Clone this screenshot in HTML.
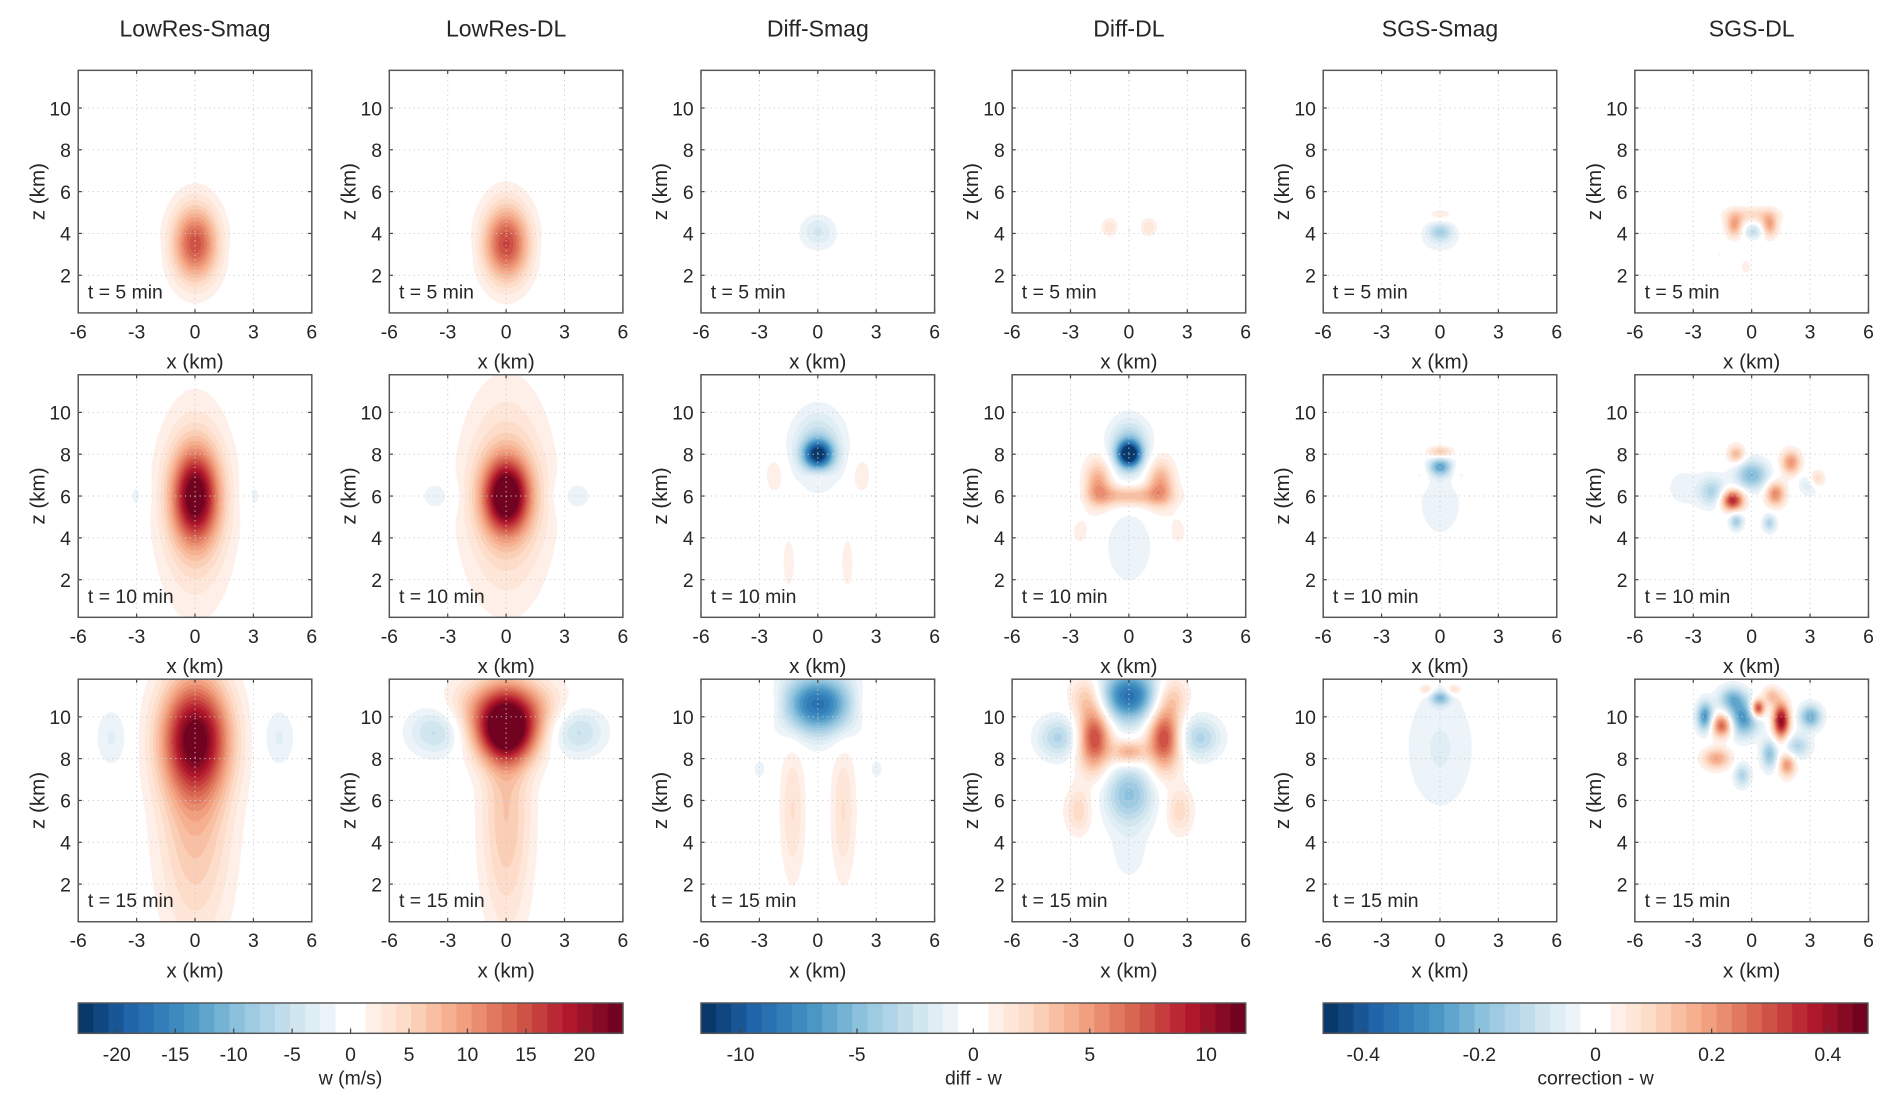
<!DOCTYPE html>
<html><head><meta charset="utf-8"><style>
html,body{margin:0;padding:0;background:#fff;width:1892px;height:1104px;overflow:hidden}
#root{position:absolute;left:0;top:0;width:1560px;height:910.3px;transform:scale(1.21282);transform-origin:0 0;font-family:"Liberation Sans",Arial,sans-serif}
canvas{position:absolute}
svg{position:absolute;left:0;top:0}
text{font-family:"Liberation Sans",Arial,sans-serif;fill:#262626}
</style></head><body>
<div id="root">
<svg id="ov" width="1560" height="911" viewBox="0 0 1560 911"></svg>
</div>
<script>
// ---- data ----
const colTitles=["LowRes-Smag","LowRes-DL","Diff-Smag","Diff-DL","SGS-Smag","SGS-DL"];
const timeLabels=["t = 5 min","t = 10 min","t = 15 min"];
const xTicks=[-6,-3,0,3,6];
const zTicks=[2,4,6,8,10];
const cbTicksW=[-20,-15,-10,-5,0,5,10,15,20];
const cbTicksDiff=[-10,-5,0,5,10];
const cbTicksCorr=[-0.4,-0.2,0,0.2,0.4];
const cbRanges=[23.3,11.7,0.469];
const cbTitles=["w (m/s)","diff - w","correction - w"];
// blobs: [x, z, sx, sz, amplitude(normalized to colorbar max)]
const fields=[
 [ // t=5
  [[0,3.5,0.8,1.2,0.55],[0,3.6,1.0,1.7,0.1],[-2.2,3,0.25,0.5,-0.07],[2.2,3,0.25,0.5,-0.07]],
  [[0,3.5,0.8,1.2,0.58],[0,3.7,1.0,1.8,0.1],[-2.2,3.1,0.25,0.5,-0.07],[2.2,3.1,0.25,0.5,-0.07]],
  [[0,4.2,0.6,0.5,-0.15],[0,3.6,0.8,0.5,-0.05]],
  [[-1,4.3,0.3,0.3,0.16],[1,4.3,0.3,0.3,0.16],[0,4.2,0.3,0.3,-0.06]],
  [[0,4.1,0.45,0.3,-0.3],[0,3.6,0.8,0.45,-0.08],[0,4.9,0.45,0.2,0.1],[0,2.2,0.6,0.3,-0.05]],
  [[-0.9,4.4,0.3,0.4,0.4],[0.9,4.4,0.3,0.4,0.4],[0,4.9,0.9,0.25,0.2],[0.1,4.1,0.35,0.25,-0.25],[-1.7,3,0.12,0.3,-0.06],[-0.3,2.4,0.2,0.25,0.1]]
 ],
 [ // t=10
  [[0,6,0.8,1.5,0.85],[0,5.5,1.3,3.2,0.25],[-3,6,0.4,0.7,-0.08],[3,6,0.4,0.7,-0.08]],
  [[0,6,0.8,1.2,0.95],[0,6,1.5,3.3,0.28],[-3.5,6,0.7,0.6,-0.1],[3.5,6,0.7,0.6,-0.1]],
  [[0,8,0.5,0.45,-0.8],[0,8.3,0.9,1.2,-0.3],[0,6.9,0.5,0.3,0.1],[-2.2,7,0.4,0.7,0.1],[2.2,7,0.4,0.7,0.1],[-1.5,2.8,0.3,1.2,0.08],[1.5,2.8,0.3,1.2,0.08]],
  [[0,8,0.4,0.4,-0.9],[0,8.3,0.7,0.9,-0.4],[-1.6,6.6,0.5,0.8,0.4],[1.6,6.6,0.5,0.8,0.4],[0,6.0,1.4,0.35,0.35],[0,3.6,1.0,1.5,-0.1],[-3,6,0.7,0.5,-0.08],[-2.5,4.3,0.4,0.6,0.08],[2.5,4.3,0.4,0.6,0.08]],
  [[0,7.4,0.4,0.3,-0.5],[0,8.1,0.45,0.2,0.3],[0,5.8,0.9,1.4,-0.1],[-1,7,0.3,0.4,0.1],[1,7,0.3,0.4,0.1]],
  [[-1,5.8,0.4,0.35,0.8],[1.2,6.1,0.35,0.4,0.5],[0,7,0.6,0.5,-0.45],[2,7.6,0.35,0.4,0.45],[-2,6.2,0.5,0.5,-0.3],[-0.8,4.8,0.25,0.3,-0.35],[0.9,4.7,0.25,0.3,-0.3],[-0.8,8,0.3,0.3,0.35],[3,6.6,0.4,0.4,-0.2],[3.3,6.8,0.3,0.3,0.3],[-3.5,6.4,0.8,0.8,-0.08]]
 ],
 [ // t=15
  [[0,9,1.2,1.8,0.8],[0,6,1.3,4.5,0.33],[-4.3,9,0.6,1,-0.12],[4.3,9,0.6,1,-0.12]],
  [[0,9.2,1.1,1.0,0.9],[0,10.5,1.7,1.0,0.5],[0,5.5,0.9,4,0.28],[-3.6,9.3,1,0.8,-0.25],[3.6,9.3,1,0.8,-0.25]],
  [[0,10.6,1.4,1.0,-0.75],[-2.5,10.6,0.8,0.8,0.15],[2.5,10.6,0.8,0.8,0.15],[-1.3,5.5,0.45,2.4,0.17],[1.3,5.5,0.45,2.4,0.17],[-3,7.5,0.3,0.4,-0.08],[3,7.5,0.3,0.4,-0.08]],
  [[0,11,1.1,0.9,-0.75],[-1.8,9,0.6,1.1,0.7],[1.8,9,0.6,1.1,0.7],[0,8.3,0.6,0.4,0.4],[-3.6,9,0.8,0.7,-0.3],[3.6,9,0.8,0.7,-0.3],[0,6.3,0.9,1.0,-0.4],[-2.6,5.5,0.5,0.8,0.2],[2.6,5.5,0.5,0.8,0.2],[-2.2,11,0.6,0.7,0.25],[2.2,11,0.6,0.7,0.25],[0,3.5,0.8,1.2,-0.08]],
  [[0,8.5,1.3,2.2,-0.12],[0,10.9,0.35,0.25,-0.4],[-0.7,11.3,0.3,0.2,0.2],[0.7,11.3,0.3,0.2,0.2]],
  [[0.3,10.4,0.25,0.3,0.8],[1.5,9.8,0.3,0.6,0.9],[-1.5,9.6,0.4,0.4,0.7],[-0.5,9.9,0.6,0.6,-0.6],[-2.4,10,0.3,0.5,-0.6],[3,10,0.4,0.4,-0.5],[-1.8,8,0.5,0.35,0.4],[0.9,8.2,0.3,0.5,-0.4],[1.8,7.7,0.3,0.4,0.45],[-0.5,7.2,0.3,0.4,-0.3],[-1,10.9,0.5,0.4,-0.4],[1,11,0.3,0.3,0.3],[2.3,8.6,0.5,0.4,-0.3]]
 ]
];
// ---- layout ----
const colX=[64.5,321,578,834.5,1091,1348], rowY=[58,309,560], PW=192.6, PH=200;
const XMIN=-6,XMAX=6,ZMIN=0.2,ZMAX=11.8;
const sx=(c,x)=>colX[c]+(x-XMIN)/(XMAX-XMIN)*PW;
const sz=(r,z)=>rowY[r]+PH-(z-ZMIN)/(ZMAX-ZMIN)*PH;
const stops=[[5,48,97],[33,102,172],[67,147,195],[146,197,222],[209,229,240],[255,255,255],[253,219,199],[244,165,130],[214,96,77],[178,24,43],[103,0,31]];
const NL=36;
function cmap(v){
  let k=Math.floor((v+1)/2*NL); k=Math.max(0,Math.min(NL-1,k));
  let t=(k+0.5)/NL; if(Math.abs(t-0.5)<0.5/NL+1e-9) return [255,255,255];
  let p=t*(stops.length-1), i=Math.min(stops.length-2,Math.floor(p)), f=p-i;
  return stops[i].map((a,j)=>Math.round(a+(stops[i+1][j]-a)*f));
}
const root=document.getElementById('root');
const svg=document.getElementById('ov');
const NS='http://www.w3.org/2000/svg';
function mk(tag,attrs,parent){const e=document.createElementNS(NS,tag);for(const k in attrs)e.setAttribute(k,attrs[k]);(parent||svg).appendChild(e);return e;}
function txt(x,y,s,size,anchor,parent){const t=mk('text',{x:x,y:y,'font-size':size,'text-anchor':anchor||'middle'},parent);t.textContent=s;return t;}
for(let r=0;r<3;r++)for(let c=0;c<6;c++){
  const cv=document.createElement('canvas');
  
  
  const S=2; cv.width=Math.round(PW*S); cv.height=PH*S;
  cv.style.left=colX[c]+'px'; cv.style.top=rowY[r]+'px'; cv.style.width=PW+'px'; cv.style.height=PH+'px';
  root.insertBefore(cv,svg);
  const ctx=cv.getContext('2d'); const img=ctx.createImageData(cv.width,cv.height);
  const bl=fields[r][c];
  for(let py=0;py<cv.height;py++){const z=ZMAX-(py+0.5)/cv.height*(ZMAX-ZMIN);
    for(let px=0;px<cv.width;px++){const x=XMIN+(px+0.5)/cv.width*(XMAX-XMIN);
      let v=0; for(const b of bl){const dx=(x-b[0])/b[2],dz=(z-b[1])/b[3];v+=b[4]*Math.exp(-0.5*(dx*dx+dz*dz));}
      const col=cmap(v); const o=(py*cv.width+px)*4; img.data[o]=col[0];img.data[o+1]=col[1];img.data[o+2]=col[2];img.data[o+3]=255;}}
  ctx.putImageData(img,0,0);
  const g=mk('g',{});
  
  
  for(const t of xTicks){const X=sx(c,t);
    if(t>XMIN&&t<XMAX)mk('line',{x1:X,y1:rowY[r],x2:X,y2:rowY[r]+PH,stroke:'#ccc','stroke-width':0.8,'stroke-dasharray':'1 3'},g);
    mk('line',{x1:X,y1:rowY[r]+PH,x2:X,y2:rowY[r]+PH-3,stroke:'#444','stroke-width':1},g);
    mk('line',{x1:X,y1:rowY[r],x2:X,y2:rowY[r]+3,stroke:'#444','stroke-width':1},g);
    txt(X,rowY[r]+PH+21,String(t),16,'middle',g);}
  for(const t of zTicks){const Y=sz(r,t);
    mk('line',{x1:colX[c],y1:Y,x2:colX[c]+PW,y2:Y,stroke:'#ccc','stroke-width':0.8,'stroke-dasharray':'1 3'},g);
    mk('line',{x1:colX[c],y1:Y,x2:colX[c]+3,y2:Y,stroke:'#444','stroke-width':1},g);
    mk('line',{x1:colX[c]+PW,y1:Y,x2:colX[c]+PW-3,y2:Y,stroke:'#444','stroke-width':1},g);
    txt(colX[c]-6,Y+6,String(t),16,'end',g);}
  mk('rect',{x:colX[c],y:rowY[r],width:PW,height:PH,fill:'none',stroke:'#555','stroke-width':1.2},g);
  txt(colX[c]+8,rowY[r]+188,timeLabels[r],16,'start',g);
  txt(colX[c]+PW/2,rowY[r]+PH+46,'x (km)',17,'middle',g);
  const yl=txt(0,0,'z (km)',17,'middle',g);yl.setAttribute('transform','translate('+(colX[c]-28)+','+(rowY[r]+PH/2)+') rotate(-90)');
  
}
for(let c=0;c<6;c++){const t=txt(colX[c]+PW/2,30,colTitles[c],19);
  }
const cbX=[colX[0],colX[2],colX[4]], CBW=colX[1]+PW-colX[0], cbY=827, CBH=25;
const cbTicks=[cbTicksW,cbTicksDiff,cbTicksCorr];
for(let i=0;i<3;i++){
  const g=mk('g',{});
  
  
  for(let k=0;k<NL;k++){const v=-1+(2*k+1)/NL;const col=cmap(v);
    mk('rect',{x:cbX[i]+k*CBW/NL,y:cbY,width:CBW/NL+0.6,height:CBH,fill:'rgb('+col.join(',')+')'},g);}
  mk('rect',{x:cbX[i],y:cbY,width:CBW,height:CBH,fill:'none',stroke:'#555','stroke-width':1.2},g);
  const R=cbRanges[i];
  for(const t of cbTicks[i]){const X=cbX[i]+(t+R)/(2*R)*CBW;
    mk('line',{x1:X,y1:cbY+CBH,x2:X,y2:cbY+CBH-4,stroke:'#444','stroke-width':1},g);
    txt(X,cbY+CBH+23,String(t),16,'middle',g);}
  txt(cbX[i]+CBW/2,cbY+CBH+42,cbTitles[i],16,'middle',g);
}
</script>
</body></html>
